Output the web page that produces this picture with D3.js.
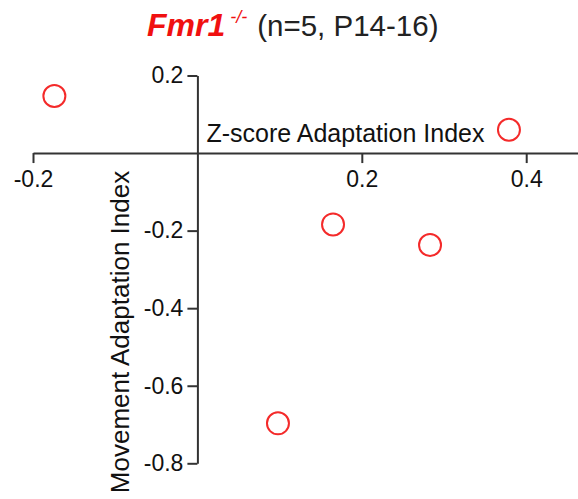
<!DOCTYPE html>
<html>
<head>
<meta charset="utf-8">
<script src="https://cdn.jsdelivr.net/npm/d3@7"></script>
<style>
  body { margin: 0; background: #fff; }
  #chart text { font-family: 'Liberation Sans', Arial, sans-serif; }
</style>
</head>
<body>
<div id="chart"></div>
<script>
// Z-score adaptation index (x) vs movement adaptation index (y), one point per animal
var zScoreIndex = [-0.174, 0.379, 0.165, 0.283, 0.098];
var movementIndex = [0.147, 0.060, -0.184, -0.237, -0.697];

var xTicks = [-0.2, 0.2, 0.4];
var yTicks = [0.2, -0.2, -0.4, -0.6, -0.8];

var titleGene = 'Fmr1';
var titleGenotype = '-/-';
var titleRest = '(n=5, P14-16)';
var xTitle = 'Z-score Adaptation Index';
var yTitle = 'Movement Adaptation Index';

var width = 578, height = 499;

var svg = d3.select('#chart')
    .append('svg')
    .attr('width', width)
    .attr('height', height);

var x = d3.scaleLinear().domain([-0.2, 0.463]).range([33, 578]);
var y = d3.scaleLinear().domain([-0.8, 0.2]).range([463.3, 75.5]);

var fmt = function(d) { return d.toFixed(1); };

// axes cross at the origin
var xAxis = svg.append('g')
    .attr('transform', 'translate(0,' + y(0) + ')')
    .call(d3.axisBottom(x).tickValues(xTicks).tickFormat(fmt).tickSize(10).tickSizeOuter(0).tickPadding(8));

var yAxis = svg.append('g')
    .attr('transform', 'translate(' + x(0) + ',0)')
    .call(d3.axisLeft(y).tickValues(yTicks).tickFormat(fmt).tickSize(10).tickSizeOuter(0).tickPadding(4));

svg.selectAll('.domain, .tick line')
    .attr('stroke', '#333')
    .attr('stroke-width', 2);

svg.selectAll('.tick text')
    .attr('fill', '#111')
    .style('font-size', '23px');

// axis titles
svg.append('text')
    .attr('x', 206.5)
    .attr('y', 141.5)
    .attr('fill', '#111')
    .style('font-size', '25px')
    .text(xTitle);

svg.append('text')
    .attr('transform', 'translate(129,332) rotate(-90)')
    .attr('text-anchor', 'middle')
    .attr('fill', '#111')
    .style('font-size', '26px')
    .text(yTitle);

// chart title
var title = svg.append('text')
    .attr('x', 147)
    .attr('y', 36);

title.append('tspan')
    .attr('fill', '#f01010')
    .style('font-size', '32px')
    .style('font-weight', 'bold')
    .style('font-style', 'italic')
    .text(titleGene);

title.append('tspan')
    .attr('dx', 5)
    .attr('dy', -13)
    .attr('fill', '#f01010')
    .style('font-size', '18px')
    .style('font-style', 'italic')
    .text(titleGenotype);

title.append('tspan')
    .attr('dx', 10)
    .attr('dy', 13)
    .attr('fill', '#222')
    .style('font-size', '29.5px')
    .text(titleRest);

// points
svg.selectAll('.pt')
    .data(zScoreIndex)
    .enter()
    .append('circle')
    .attr('class', 'pt')
    .attr('cx', function(d) { return x(d); })
    .attr('cy', function(d, i) { return y(movementIndex[i]); })
    .attr('r', 11)
    .attr('fill', 'none')
    .attr('stroke', '#f42a2a')
    .attr('stroke-width', 2);
</script>
</body>
</html>
